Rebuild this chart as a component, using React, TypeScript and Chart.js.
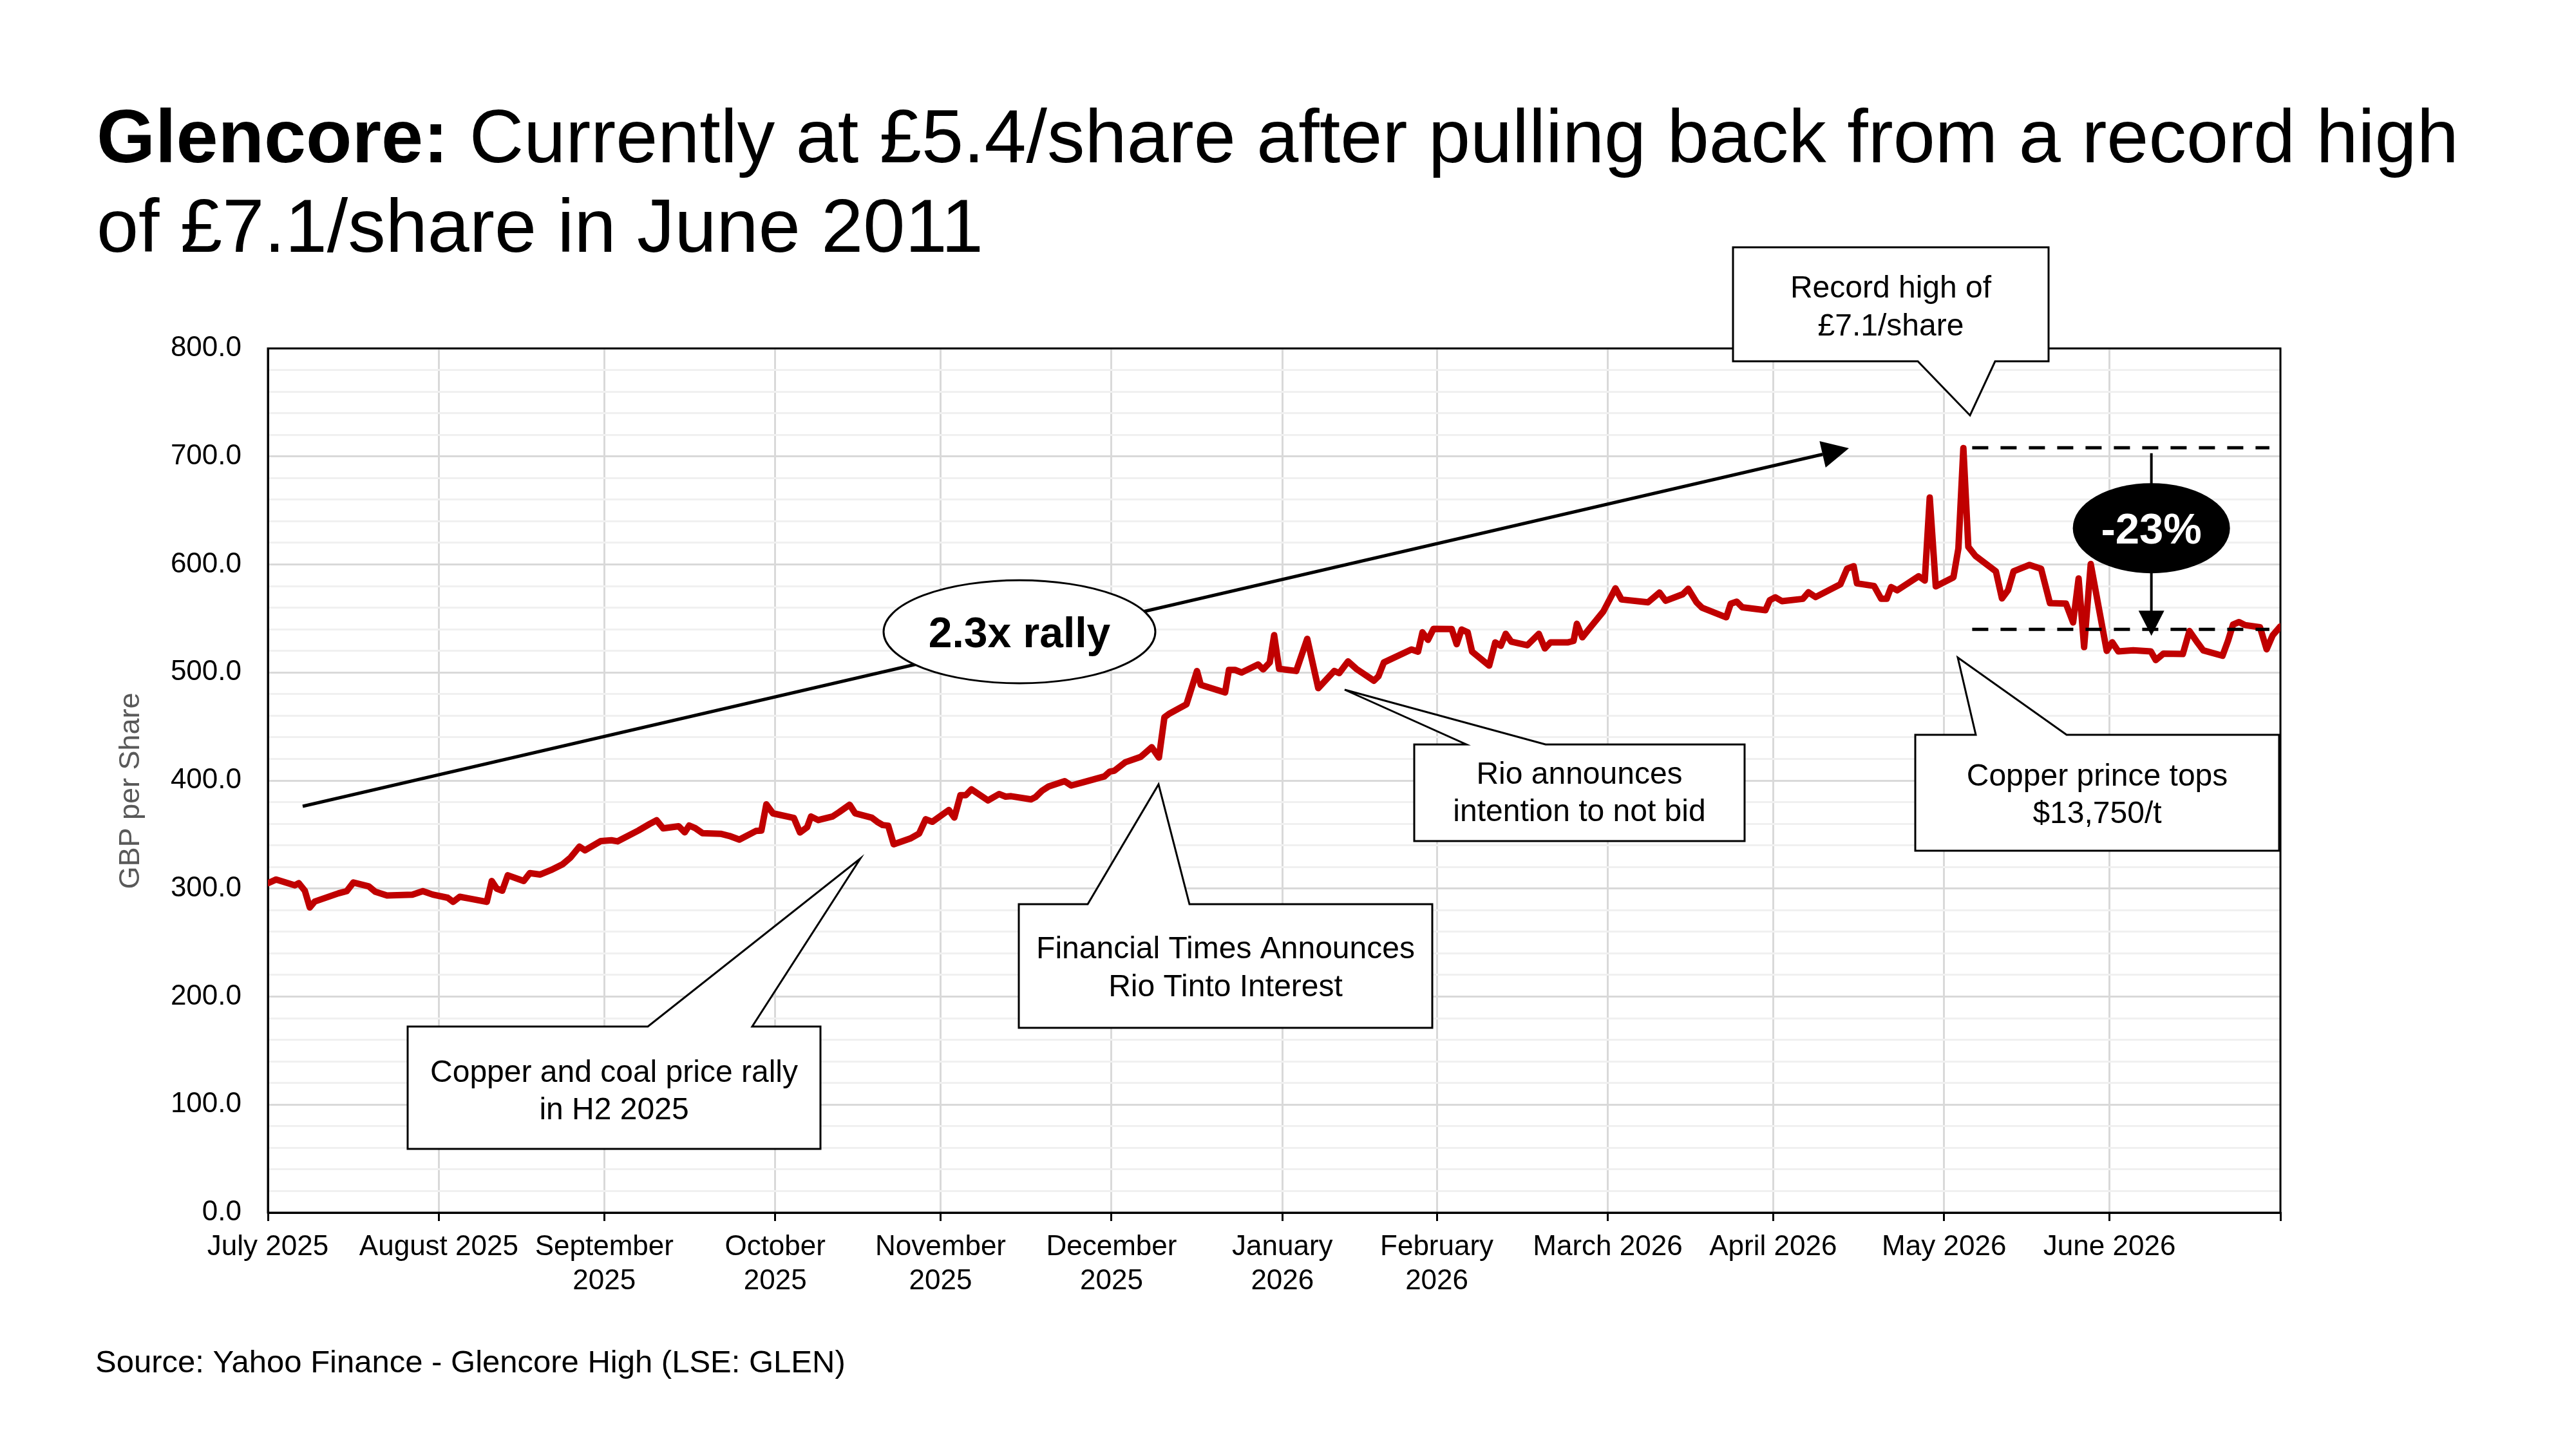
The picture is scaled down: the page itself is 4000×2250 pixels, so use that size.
import React, { useEffect, useRef } from 'react';
import { Chart, registerables } from 'chart.js';

Chart.register(...registerables);

// ---- Data (days since 1 July 2025, GBp per share) ----
const DAYS = [
  0, 1.5, 4.9, 5.6, 6.7, 7.6, 8.5, 12.8, 14.3, 15.5, 18.3, 19.5, 21.6, 26.2, 28.1, 29.9,
  32.6, 33.6, 34.8, 36.3, 39.7, 40.6, 41.5, 42.5, 43.5, 46.4, 47.5, 49.4, 51.3, 53.4, 54.9,
  56.5, 57.5, 60.4, 62.3, 63.4, 67.2, 69.3, 70.5, 71.7, 74.5, 75.6, 76.4, 77.5, 78.8, 82.1,
  83.7, 85.5, 88.5, 89.5, 90.4, 91.6, 92.4, 95.4, 96.5, 97.8, 98.5, 99.8, 102.4, 103.6,
  105.5, 106.5, 109.5, 110.5, 111.5, 112.5, 113.5, 116.5, 118.1, 119.3, 120.5, 123.5, 124.5,
  125.6, 126.6, 127.6, 130.6, 132.6, 133.8, 134.8, 138.4, 139.2, 140.4, 141.6, 144.5, 145.7,
  147.9, 151.7, 152.7, 153.5, 155.5, 158.3, 160.3, 161.6, 162.6, 163.4, 166.6, 168.5, 169.2,
  173.6, 174.3, 175.4, 176.6, 179.6, 180.5, 181.7, 182.5, 183.4, 186.5, 188.5, 190.5, 193.4,
  194.3, 195.9, 197.4, 200.6, 201.4, 202.4, 207.4, 208.6, 209.4, 210.4, 211.4, 214.7, 215.6,
  216.5, 217.6, 218.4, 221.5, 222.6, 223.6, 224.5, 225.5, 228.4, 230.5, 231.6, 232.6, 235.7,
  236.8, 237.4, 238.4, 239.9, 242.2, 244.4, 245.5, 250.3, 252.4, 253.5, 256.6, 257.6, 259.1,
  260.1, 264.5, 265.3, 266.4, 267.4, 271.6, 272.4, 273.4, 274.6, 278.4, 279.4, 280.7, 285.2,
  286.4, 287.6, 288.2, 291.3, 292.6, 293.6, 294.4, 295.5, 299.4, 300.5, 301.4, 302.5, 305.7,
  306.6, 307.5, 308.4, 309.7, 313.4, 314.5, 315.6, 316.6, 319.5, 321.6, 323.2, 326.1, 327.4,
  328.4, 329.4, 330.6, 333.5, 334.5, 335.6, 338.3, 341.5, 342.4, 343.8, 347.3, 348.5, 350,
  351, 354.5, 355.5, 356.4, 357.5, 358.6, 361.3, 362.5, 363.6, 365,
];

const PRICES = [
  305, 308.4, 303, 305, 298, 282.5, 288, 295.6, 297.6, 305.6, 302, 297, 293.6, 294.4, 297.6, 294.4,
  291.5, 287.7, 292.4, 291, 287.7, 307, 300, 298, 312.3, 307, 314.3, 313, 317, 322.3, 328.8,
  338.8, 335.4, 344, 344.7, 343.7, 353.7, 360, 363.2, 355.7, 357.7, 352, 358.3, 356, 351.3, 350.7,
  348.7, 345.3, 353.3, 353.7, 378, 369.6, 368.7, 365.3, 351.9, 356.8, 366.7, 363.4, 366.7, 370.7,
  377.6, 369.7, 365.7, 361.8, 358.8, 358.2, 341, 346.3, 350.9, 364.2, 361.8, 372.7, 365.7,
  386.5, 386.5, 391.9, 381.6, 387.5, 385.1, 385.5, 382.6, 384.6, 390.5, 394.5, 399.4, 395.4,
  398.4, 403.8, 408.3, 409, 416.9, 421.9, 430.8, 421.3, 458.6, 461.6, 470.6, 501.4, 488.5,
  481.5, 502.4, 502.4, 500, 507.4, 502.8, 509.3, 534.6, 503.4, 501.4, 531.2, 485.5, 501.4,
  499.4, 510.3, 503.4, 492.4, 496.4, 509.3, 521.3, 519.3, 537.2, 530.2, 540.4, 540.2, 526.2,
  539.8, 537.2, 519.3, 506.4, 527.8, 524.7, 535.8, 528.6, 525.2, 535.8, 522.3, 527.8, 527.8,
  529.2, 545.1, 532.6, 542.1, 556.5, 577.9, 567.6, 565, 574, 566.4, 572.4, 577.5, 565,
  560, 551.1, 563.6, 565.6, 560.4, 557.7, 567, 569.6, 566, 568.2, 574.2, 569.8, 581.7,
  596, 598.4, 582.5, 580.1, 568.2, 568.2, 579.1, 576.1, 589.1, 585.1, 662, 579.7, 588.1,
  614.9, 707.8, 616.3, 607.9, 593.6, 568.6, 576.1, 593.6, 599.6, 596, 564.2, 563.8, 546.3,
  587, 523.5, 600.4, 520, 528, 519.5, 520.5, 519.5, 511.5, 517.5, 517.1, 538.4, 527.4,
  520.5, 515.5, 529.4, 544.3, 546.7, 543.9, 541.9, 521.5, 534.4, 542.7,
];

// x-axis tick positions (days since 1 July 2025) and their labels
const X_TICK_DAYS = [0, 31, 61, 92, 122, 153, 184, 212, 243, 273, 304, 334, 365];
const X_TICK_LABELS = [
  'July 2025', 'August 2025', 'September\n2025', 'October\n2025', 'November\n2025',
  'December\n2025', 'January\n2026', 'February\n2026', 'March 2026', 'April 2026',
  'May 2026', 'June 2026', '',
];

const Y_MIN = 0;
const Y_MAX = 800;
const Y_MAJOR = 100;
const Y_MINOR = 20;

const TITLE_BOLD = 'Glencore:';
const TITLE_REST = ' Currently at £5.4/share after pulling back from a record high';
const TITLE_LINE2 = 'of £7.1/share in June 2011';
const SOURCE = 'Source: Yahoo Finance - Glencore High (LSE: GLEN)';
const Y_TITLE = 'GBP per Share';

const FONT = '"Liberation Sans", Arial, Helvetica, sans-serif';
const RED = '#C00000';

type Callout = {
  box: [number, number, number, number];
  side: 'top' | 'bottom';
  base: [number, number];
  tip: [number, number];
  lines: string[];
  baselines: number[];
};

const CALLOUTS: Callout[] = [
  {
    box: [633, 1594, 1274, 1784], side: 'top', base: [1006, 1168], tip: [1336, 1333],
    lines: ['Copper and coal price rally', 'in H2 2025'], baselines: [1680, 1738],
  },
  {
    box: [1582, 1404, 2224, 1596], side: 'top', base: [1689, 1847], tip: [1799, 1218],
    lines: ['Financial Times Announces', 'Rio Tinto Interest'], baselines: [1488, 1547],
  },
  {
    box: [2196, 1156, 2709, 1306], side: 'top', base: [2277, 2400], tip: [2088, 1071],
    lines: ['Rio announces', 'intention to not bid'], baselines: [1217, 1275],
  },
  {
    box: [2691, 384, 3181, 561], side: 'bottom', base: [2978, 3098], tip: [3059, 645],
    lines: ['Record high of', '£7.1/share'], baselines: [462, 521],
  },
  {
    box: [2974, 1141, 3539, 1321], side: 'top', base: [3068, 3209], tip: [3040, 1021],
    lines: ['Copper prince tops', '$13,750/t'], baselines: [1220, 1278],
  },
];

function drawArrowHead(ctx: CanvasRenderingContext2D, fx: number, fy: number, tx: number, ty: number, len: number, half: number) {
  const dx = tx - fx;
  const dy = ty - fy;
  const L = Math.hypot(dx, dy);
  const ux = dx / L;
  const uy = dy / L;
  const bx = tx - ux * len;
  const by = ty - uy * len;
  ctx.beginPath();
  ctx.moveTo(tx, ty);
  ctx.lineTo(bx - uy * half, by + ux * half);
  ctx.lineTo(bx + uy * half, by - ux * half);
  ctx.closePath();
  ctx.fill();
  return [bx, by];
}

const borderPlugin = {
  id: 'plotBorder',
  beforeDatasetsDraw(chart: any) {
    const { ctx, chartArea: a } = chart;
    ctx.save();
    ctx.strokeStyle = '#000';
    ctx.lineWidth = 3;
    ctx.strokeRect(a.left, a.top, a.right - a.left, a.bottom - a.top);
    ctx.restore();
  },
};

const annotationPlugin = {
  id: 'annotations',
  afterDraw(chart: any) {
    const ctx: CanvasRenderingContext2D = chart.ctx;
    const xs = chart.scales.x;
    const ys = chart.scales.y;
    ctx.save();

    // Title
    ctx.fillStyle = '#000';
    ctx.textAlign = 'left';
    ctx.textBaseline = 'alphabetic';
    ctx.font = `bold 117px ${FONT}`;
    ctx.fillText(TITLE_BOLD, 150, 252);
    const w = ctx.measureText(TITLE_BOLD).width;
    ctx.font = `117px ${FONT}`;
    ctx.fillText(TITLE_REST, 150 + w, 252);
    ctx.fillText(TITLE_LINE2, 150, 391);

    // Source
    ctx.font = `49px ${FONT}`;
    ctx.fillText(SOURCE, 148, 2131);

    // Y-axis title
    ctx.save();
    ctx.translate(216, 1228);
    ctx.rotate(-Math.PI / 2);
    ctx.textAlign = 'center';
    ctx.fillStyle = '#595959';
    ctx.font = `45px ${FONT}`;
    ctx.fillText(Y_TITLE, 0, 0);
    ctx.restore();

    // 2.3x rally arrow
    ctx.strokeStyle = '#000';
    ctx.fillStyle = '#000';
    ctx.lineWidth = 5;
    const [bx, by] = drawArrowHead(ctx, 470, 1252, 2871, 696, 42, 21);
    ctx.beginPath();
    ctx.moveTo(470, 1252);
    ctx.lineTo(bx, by);
    ctx.stroke();

    // rally ellipse
    ctx.beginPath();
    ctx.ellipse(1583, 981, 211, 80, 0, 0, Math.PI * 2);
    ctx.fillStyle = '#fff';
    ctx.fill();
    ctx.lineWidth = 3;
    ctx.strokeStyle = '#000';
    ctx.stroke();
    ctx.fillStyle = '#000';
    ctx.font = `bold 66px ${FONT}`;
    ctx.textAlign = 'center';
    ctx.fillText('2.3x rally', 1583, 1005);

    // Drawdown dashed lines (peak and current level)
    const peakY = ys.getPixelForValue(708);
    const lowY = ys.getPixelForValue(540);
    const dashX1 = xs.getPixelForValue(309.1);
    const dashX2 = xs.getPixelForValue(363);
    ctx.setLineDash([25, 19]);
    ctx.lineWidth = 5;
    ctx.beginPath();
    ctx.moveTo(dashX1, peakY);
    ctx.lineTo(dashX2, peakY);
    ctx.moveTo(dashX1, lowY);
    ctx.lineTo(dashX2, lowY);
    ctx.stroke();
    ctx.setLineDash([]);

    // vertical arrow
    const ax = xs.getPixelForValue(341.6);
    const aTop = ys.getPixelForValue(703);
    const aTip = ys.getPixelForValue(534);
    ctx.lineWidth = 4;
    ctx.beginPath();
    ctx.moveTo(ax, aTop);
    ctx.lineTo(ax, aTip - 38);
    ctx.stroke();
    ctx.beginPath();
    ctx.moveTo(ax, aTip);
    ctx.lineTo(ax - 20, aTip - 39);
    ctx.lineTo(ax + 20, aTip - 39);
    ctx.closePath();
    ctx.fill();

    // -23% ellipse
    const ey = ys.getPixelForValue(633.6);
    ctx.beginPath();
    ctx.ellipse(ax, ey, 122, 70, 0, 0, Math.PI * 2);
    ctx.fillStyle = '#000';
    ctx.fill();
    ctx.fillStyle = '#fff';
    ctx.font = `bold 67px ${FONT}`;
    ctx.textAlign = 'center';
    ctx.fillText('-23%', ax, ey + 24);

    // Callouts
    for (const c of CALLOUTS) {
      const [x1, y1, x2, y2] = c.box;
      ctx.beginPath();
      if (c.side === 'top') {
        ctx.moveTo(x1, y1);
        ctx.lineTo(c.base[0], y1);
        ctx.lineTo(c.tip[0], c.tip[1]);
        ctx.lineTo(c.base[1], y1);
        ctx.lineTo(x2, y1);
        ctx.lineTo(x2, y2);
        ctx.lineTo(x1, y2);
      } else {
        ctx.moveTo(x1, y1);
        ctx.lineTo(x2, y1);
        ctx.lineTo(x2, y2);
        ctx.lineTo(c.base[1], y2);
        ctx.lineTo(c.tip[0], c.tip[1]);
        ctx.lineTo(c.base[0], y2);
        ctx.lineTo(x1, y2);
      }
      ctx.closePath();
      ctx.fillStyle = '#fff';
      ctx.fill();
      ctx.strokeStyle = '#000';
      ctx.lineWidth = 3;
      ctx.lineJoin = 'miter';
      ctx.stroke();
      ctx.fillStyle = '#000';
      ctx.font = `48px ${FONT}`;
      ctx.textAlign = 'center';
      const cx = (x1 + x2) / 2;
      c.lines.forEach((t, i) => ctx.fillText(t, cx, c.baselines[i]));
    }

    ctx.restore();
  },
};

export default function App() {
  const canvasRef = useRef<HTMLCanvasElement | null>(null);

  useEffect(() => {
    if (!canvasRef.current) return;
    const chart = new Chart(canvasRef.current, {
      type: 'line',
      data: {
        datasets: [
          {
            data: DAYS.map((d, i) => ({ x: d, y: PRICES[i] })),
            borderColor: RED,
            borderWidth: 10,
            pointRadius: 0,
            tension: 0,
            borderJoinStyle: 'round',
            borderCapStyle: 'round',
          } as any,
        ],
      },
      options: {
        animation: false,
        responsive: true,
        maintainAspectRatio: false,
        devicePixelRatio: 1,
        layout: { padding: { left: 116, top: 541, right: 459, bottom: 167 } },
        plugins: { legend: { display: false }, tooltip: { enabled: false } },
        scales: {
          x: {
            type: 'linear',
            min: 0,
            max: 365,
            afterBuildTicks: (s: any) => {
              s.ticks = X_TICK_DAYS.map((v) => ({ value: v }));
            },
            afterFit: (s: any) => {
              s.height = 200;
            },
            ticks: {
              autoSkip: false,
              maxRotation: 0,
              minRotation: 0,
              padding: 14,
              color: '#000',
              font: { family: FONT, size: 44, lineHeight: 1.21 },
              callback: (_v: any, i: number) => (X_TICK_LABELS[i] ?? '').split('\n'),
            },
            grid: {
              color: '#d9d9d9',
              lineWidth: 3,
              drawTicks: true,
              tickLength: 13,
              tickColor: '#000',
              tickWidth: 3,
            },
            border: { display: true, color: '#000', width: 3 },
          },
          y: {
            min: Y_MIN,
            max: Y_MAX,
            afterFit: (s: any) => {
              s.width = 300;
            },
            ticks: {
              stepSize: Y_MINOR,
              autoSkip: false,
              padding: 41,
              color: '#000',
              font: { family: FONT, size: 44 },
              callback: (v: any) => (Math.round(Number(v)) % Y_MAJOR === 0 ? Number(v).toFixed(1) : ''),
            },
            grid: {
              color: (ctx: any) => (Math.round(ctx.tick.value) % Y_MAJOR === 0 ? '#d9d9d9' : '#f0f0f0'),
              lineWidth: 3,
              drawTicks: false,
            },
            border: { display: true, color: '#000', width: 3 },
          },
        },
      },
      plugins: [borderPlugin, annotationPlugin],
    });
    return () => chart.destroy();
  }, []);

  return (
    <div style={{ position: 'absolute', left: 0, top: 0, width: 4000, height: 2250, background: '#fff' }}>
      <canvas ref={canvasRef} />
    </div>
  );
}
